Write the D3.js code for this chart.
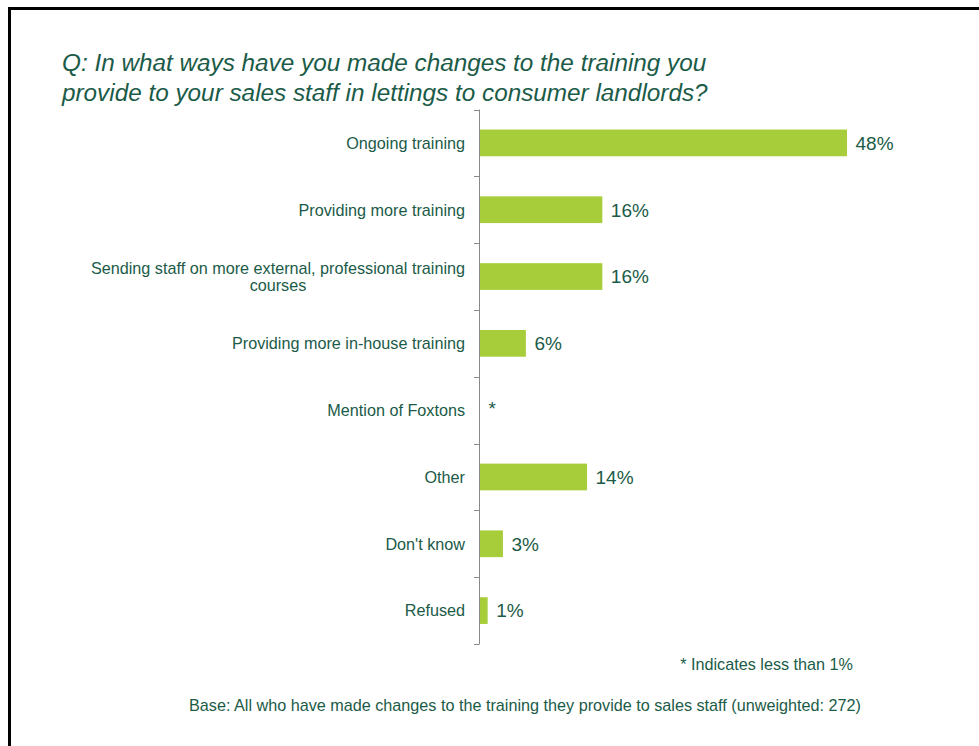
<!DOCTYPE html>
<html><head><meta charset="utf-8">
<script src="https://cdn.jsdelivr.net/npm/d3@7"></script>
<style>
html,body{margin:0;padding:0;background:#fff;}
svg{display:block;font-family:"Liberation Sans",Arial,sans-serif;}
</style></head>
<body>
<svg id="chart" width="979" height="746"></svg>
<script>
const categories = [
  "Ongoing training",
  "Providing more training",
  "Sending staff on more external, professional training|courses",
  "Providing more in-house training",
  "Mention of Foxtons",
  "Other",
  "Don't know",
  "Refused"
];
const values = [48, 16, 16, 6, 0, 14, 3, 1];
const valueLabels = ["48%", "16%", "16%", "6%", "*", "14%", "3%", "1%"];
const titleLines = [
  "Q: In what ways have you made changes to the training you",
  "provide to your sales staff in lettings to consumer landlords?"
];
const footnote = "* Indicates less than 1%";
const baseNote = "Base: All who have made changes to the training they provide to sales staff (unweighted: 272)";

const textColor = "#1b5b48";
const barColor = "#a8cd3b";
const axisColor = "#8a8a8a";
const labelSize = 16.2;

const svg = d3.select("#chart");

// frame (top and left edges)
svg.append("line").attr("x1", 9.5).attr("x2", 979).attr("y1", 8.5).attr("y2", 8.5)
  .attr("stroke", "#000").attr("stroke-width", 3);
svg.append("line").attr("x1", 9.5).attr("x2", 9.5).attr("y1", 7).attr("y2", 746)
  .attr("stroke", "#000").attr("stroke-width", 3);

// title
svg.append("g").selectAll("text").data(titleLines).join("text")
  .attr("x", 62).attr("y", (d, i) => 71 + i * 29.5)
  .attr("font-size", 24.3).attr("font-style", "italic").attr("fill", textColor)
  .text(d => d);

const x = d3.scaleLinear().domain([0, 48]).range([480, 847]);
const y = d3.scaleBand().domain(categories).range([109.5, 644]).paddingInner(0.6).paddingOuter(0.3);
const step = (644 - 109.5) / categories.length;

// axis line & ticks
const axisG = svg.append("g");
axisG.append("line").attr("x1", 479.5).attr("x2", 479.5).attr("y1", 109.5).attr("y2", 644)
  .attr("stroke", axisColor).attr("stroke-width", 1);
axisG.selectAll("line.tick").data(d3.range(categories.length + 1)).join("line")
  .attr("class", "tick")
  .attr("x1", 474).attr("x2", 479.5)
  .attr("y1", i => Math.round(109.5 + i * step) + 0.5)
  .attr("y2", i => Math.round(109.5 + i * step) + 0.5)
  .attr("stroke", axisColor).attr("stroke-width", 1);

// bars
svg.append("g").selectAll("rect").data(categories).join("rect")
  .attr("x", x(0))
  .attr("y", d => y(d))
  .attr("width", (d, i) => x(values[i]) - x(0))
  .attr("height", y.bandwidth())
  .attr("fill", barColor);

// value labels
svg.append("g").selectAll("text").data(categories).join("text")
  .attr("x", (d, i) => x(values[i]) + 8.5)
  .attr("y", (d, i) => y(d) + y.bandwidth() / 2 + (valueLabels[i] === "*" ? -2 : 0))
  .attr("dy", "0.36em")
  .attr("font-size", 19)
  .attr("fill", textColor)
  .text((d, i) => valueLabels[i]);

// category labels
const labG = svg.append("g");
categories.forEach(c => {
  const lines = c.split("|");
  const cy = y(c) + y.bandwidth() / 2;
  const lh = 17.3;
  const t = labG.append("text")
    .attr("font-size", labelSize).attr("fill", textColor);
  if (lines.length === 1) {
    t.attr("x", 465).attr("y", cy).attr("dy", "0.36em").attr("text-anchor", "end").text(lines[0]);
  } else {
    const y0 = cy - lh * (lines.length - 1) / 2;
    t.attr("x", 465).attr("y", y0).attr("dy", "0.36em").attr("text-anchor", "end").text(lines[0]);
    const w = t.node().getComputedTextLength();
    const mid = 465 - w / 2;
    for (let k = 1; k < lines.length; k++) {
      labG.append("text").attr("font-size", labelSize).attr("fill", textColor)
        .attr("x", mid).attr("y", y0 + k * lh).attr("dy", "0.36em")
        .attr("text-anchor", "middle").text(lines[k]);
    }
  }
});

// footnotes
svg.append("text").attr("x", 853).attr("y", 670).attr("text-anchor", "end")
  .attr("font-size", labelSize).attr("fill", textColor).text(footnote);
svg.append("text").attr("x", 189).attr("y", 711)
  .attr("font-size", labelSize).attr("fill", textColor).text(baseNote);
</script>
</body></html>
